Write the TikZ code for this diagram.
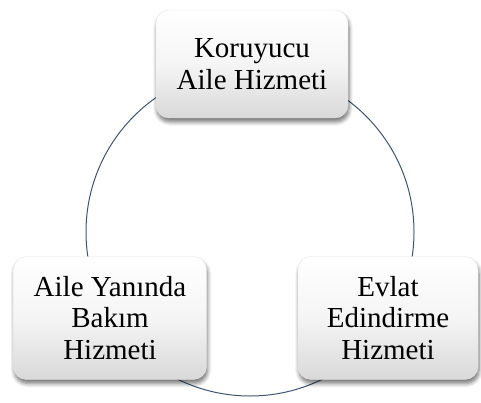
\documentclass[tikz,border=0pt]{standalone}
\usepackage{fontspec}
\setmainfont{Liberation Serif}
\usetikzlibrary{shadows.blur}
\definecolor{ringcol}{RGB}{64,84,112}
\tikzset{
  svcbox/.style={rounded corners=13pt, draw=black!10, line width=0.4pt,
    top color=white, bottom color=black!15, middle color=white!96!black,
    blur shadow={shadow xshift=1pt, shadow yshift=-4pt, shadow blur steps=6, shadow opacity=55, shadow blur radius=4pt},
    align=center, inner sep=0pt,
    font=\fontsize{29}{31.5}\selectfont},
  ring/.style={draw=ringcol, line width=1pt}
}
\begin{document}
\begin{tikzpicture}[x=1pt,y=1pt]
\useasboundingbox (0,0) rectangle (481,402);
\coordinate (c) at (250,170);
\draw[ring] (c) circle[radius=164];
\node[svcbox, minimum width=192pt, minimum height=108pt] (top) at (252,338) {Koruyucu\\Aile Hizmeti};
\node[svcbox, minimum width=193pt, minimum height=123pt] (left) at (110,84) {Aile Yanında\\Bakım\\Hizmeti};
\node[svcbox, minimum width=180pt, minimum height=123pt] (right) at (388,84) {Evlat\\Edindirme\\Hizmeti};
\end{tikzpicture}
\end{document}
